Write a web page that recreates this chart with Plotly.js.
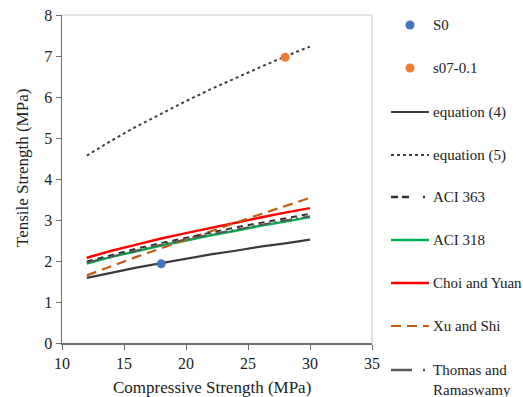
<!DOCTYPE html>
<html><head><meta charset="utf-8">
<script src="https://cdn.plot.ly/plotly-3.0.1.min.js"></script>
<style>html,body{margin:0;padding:0;background:#fff}#chart{width:523px;height:397px}</style>
</head><body><div id="chart"></div>
<script>
const fcX = [12,14,16,18,20,22,24,26,28,30];
const eq4 = [1.59,1.72,1.84,1.95,2.06,2.16,2.25,2.35,2.43,2.52];
const eq5 = [4.57,4.94,5.28,5.60,5.90,6.19,6.47,6.73,6.99,7.23];
const aci363 = [1.99,2.15,2.30,2.44,2.57,2.70,2.82,2.93,3.04,3.15];
const aci318 = [1.94,2.10,2.24,2.38,2.50,2.63,2.74,2.86,2.96,3.07];
const choiYuan = [2.08,2.25,2.40,2.55,2.68,2.81,2.94,3.06,3.18,3.29];
const xuShi = [1.65,1.88,2.10,2.31,2.52,2.73,2.94,3.14,3.34,3.54];
const thomas = [1.96,2.11,2.26,2.40,2.53,2.65,2.77,2.88,2.99,3.09];
const s0X = [18], s0Y = [1.93];
const s07X = [28], s07Y = [6.97];
const xTicks = [10,15,20,25,30,35];
const yTicks = [0,1,2,3,4,5,6,7,8];
const legendNames = ['S0','s07-0.1','equation (4)','equation (5)','ACI 363','ACI 318','Choi and Yuan','Xu and Shi','Thomas and<br>Ramaswamy'];
const xTitle = 'Compressive Strength (MPa)';
const yTitle = 'Tensile Strength (MPa)';

const FONT = 'Liberation Serif, Times New Roman, serif';
const W = 523, H = 397, M = {l:62, r:151, t:15, b:54};
const PW = W - M.l - M.r, PH = H - M.t - M.b;
const px2x = p => (p - M.l) / PW;
const px2y = p => (H - M.b - p) / PH;

const styles = [
  {kind:'marker', color:'#4472C4'},
  {kind:'marker', color:'#ED7D31'},
  {kind:'line', color:'#3a3a3a', dash:'solid', width:2.2},
  {kind:'line', color:'#404040', dash:'dot', width:2},
  {kind:'line', color:'#333333', dash:'7px,4px,7px,14px,2px,40px', width:2.5},
  {kind:'line', color:'#00B050', dash:'solid', width:2.5},
  {kind:'line', color:'#FF0000', dash:'solid', width:2.5},
  {kind:'line', color:'#C55A11', dash:'10px,6px', width:2.2},
  {kind:'line', color:'#595959', dash:'21px,11px,2px,40px', width:2.5}
];
const series = [null, null, eq4, eq5, aci363, aci318, choiYuan, xuShi, thomas];
const plotStyles = styles.slice();
plotStyles[4] = {kind:'line', color:'#333333', dash:'6px,5px', width:2};
plotStyles[8] = {kind:'line', color:'#595959', dash:'12px,4px,2px,4px', width:2};

const drawOrder = [2,3,5,6,7,4,8];
const traces = drawOrder.map(i => ({x: fcX, y: series[i], type:'scatter', mode:'lines', name: legendNames[i],
  line:{color:plotStyles[i].color, dash:plotStyles[i].dash, width:plotStyles[i].width}}));
traces.push({x:s0X, y:s0Y, name:'S0', type:'scatter', mode:'markers', marker:{color:'#4472C4', size:9}});
traces.push({x:s07X, y:s07Y, name:'s07-0.1', type:'scatter', mode:'markers', marker:{color:'#ED7D31', size:9}});

const rowY = [25, 68, 112, 155, 197, 240, 283, 326, 370];
const shapes = [
  {type:'line', xref:'paper', yref:'paper', x0:0, x1:1, y0:1, y1:1, line:{color:'#d9d9d9', width:1.5}},
  {type:'line', xref:'paper', yref:'paper', x0:1, x1:1, y0:0, y1:1, line:{color:'#d9d9d9', width:1.5}}
];
const annotations = [];
styles.forEach((s,i) => {
  const yy = px2y(rowY[i]);
  if (s.kind === 'marker') {
    shapes.push({type:'circle', xref:'paper', yref:'paper', xsizemode:'pixel', ysizemode:'pixel',
      xanchor:px2x(410), yanchor:yy, x0:-4.5, x1:4.5, y0:-4.5, y1:4.5,
      fillcolor:s.color, line:{width:0}});
  } else {
    shapes.push({type:'line', xref:'paper', yref:'paper', x0:px2x(391), x1:px2x(429), y0:yy, y1:yy,
      line:{color:s.color, dash:s.dash, width:s.width}});
  }
  annotations.push({xref:'paper', yref:'paper', x:px2x(431), y:yy, xanchor:'left',
    yanchor: i === 8 ? 'top' : 'middle', yshift: i === 8 ? 10 : 0,
    text:legendNames[i], showarrow:false, align:'left',
    font:{family:FONT, size:15, color:'#222'}});
});
annotations.push({xref:'paper', yref:'paper', x:px2x(212), y:px2y(387), xanchor:'center', yanchor:'middle',
  text:xTitle, showarrow:false, font:{family:FONT, size:17, color:'#222'}});
annotations.push({xref:'paper', yref:'paper', x:px2x(22), y:px2y(168), xanchor:'center', yanchor:'middle',
  text:yTitle, textangle:-90, showarrow:false, font:{family:FONT, size:17, color:'#222'}});

const layout = {
  width:W, height:H, margin:M, showlegend:false,
  paper_bgcolor:'#fff', plot_bgcolor:'#fff',
  font:{family:FONT, size:14, color:'#222'},
  xaxis:{range:[10,35], tickvals:xTicks, showgrid:false, zeroline:false, showline:true, linecolor:'#6f6f6f', linewidth:1.5,
    ticks:'outside', ticklen:5, tickcolor:'#6f6f6f', tickfont:{family:FONT, size:16, color:'#222'}},
  yaxis:{range:[0,8], tickvals:yTicks, showgrid:false, zeroline:false, showline:true, linecolor:'#6f6f6f', linewidth:1.5,
    ticks:'outside', ticklen:5, tickcolor:'#6f6f6f', tickfont:{family:FONT, size:16, color:'#222'}},
  shapes: shapes,
  annotations: annotations
};
Plotly.newPlot('chart', traces, layout, {displayModeBar:false, staticPlot:true});
</script></body></html>
